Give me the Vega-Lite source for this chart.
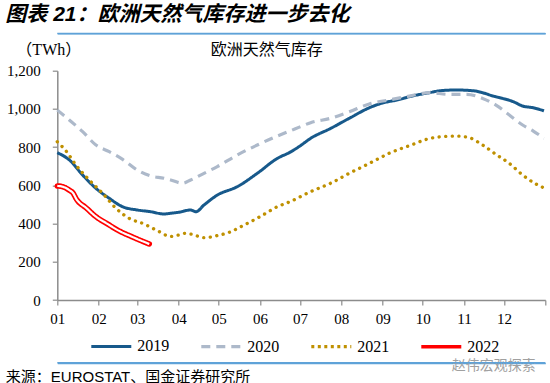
{
  "$schema": "https://vega.github.io/schema/vega-lite/v6.json",
  "autosize": {"type": "none"},
  "width": 488,
  "height": 229.3,
  "padding": {"left": 57.3, "top": 70.7, "right": 4.7, "bottom": 83},
  "background": "#ffffff",
  "title": {
    "text": "图表 21：欧洲天然气库存进一步去化",
    "anchor": "start",
    "frame": "group",
    "dx": -52,
    "offset": 8,
    "font": "Liberation Sans, Noto Sans CJK SC",
    "fontSize": 21,
    "fontWeight": "bold",
    "fontStyle": "italic",
    "color": "#000000"
  },
  "config": {"view": {"stroke": null}},
  "data": {
    "values": [
      {"date": "2019-01-01", "series": "2019", "value": 771},
      {"date": "2019-01-10", "series": "2019", "value": 733},
      {"date": "2019-01-20", "series": "2019", "value": 654},
      {"date": "2019-01-30", "series": "2019", "value": 584},
      {"date": "2019-02-09", "series": "2019", "value": 532},
      {"date": "2019-02-19", "series": "2019", "value": 488},
      {"date": "2019-03-01", "series": "2019", "value": 471},
      {"date": "2019-03-11", "series": "2019", "value": 462},
      {"date": "2019-03-21", "series": "2019", "value": 450},
      {"date": "2019-03-26", "series": "2019", "value": 454},
      {"date": "2019-04-01", "series": "2019", "value": 459},
      {"date": "2019-04-10", "series": "2019", "value": 471},
      {"date": "2019-04-14", "series": "2019", "value": 462},
      {"date": "2019-04-20", "series": "2019", "value": 497},
      {"date": "2019-04-30", "series": "2019", "value": 549},
      {"date": "2019-05-15", "series": "2019", "value": 593},
      {"date": "2019-05-30", "series": "2019", "value": 663},
      {"date": "2019-06-14", "series": "2019", "value": 741},
      {"date": "2019-06-24", "series": "2019", "value": 775},
      {"date": "2019-07-01", "series": "2019", "value": 806},
      {"date": "2019-07-09", "series": "2019", "value": 846},
      {"date": "2019-07-24", "series": "2019", "value": 898},
      {"date": "2019-08-07", "series": "2019", "value": 951},
      {"date": "2019-08-22", "series": "2019", "value": 1006},
      {"date": "2019-08-31", "series": "2019", "value": 1029},
      {"date": "2019-09-14", "series": "2019", "value": 1050},
      {"date": "2019-09-21", "series": "2019", "value": 1064},
      {"date": "2019-09-29", "series": "2019", "value": 1076},
      {"date": "2019-10-06", "series": "2019", "value": 1085},
      {"date": "2019-10-14", "series": "2019", "value": 1095},
      {"date": "2019-10-26", "series": "2019", "value": 1099},
      {"date": "2019-11-08", "series": "2019", "value": 1095},
      {"date": "2019-11-15", "series": "2019", "value": 1085},
      {"date": "2019-11-23", "series": "2019", "value": 1067},
      {"date": "2019-11-30", "series": "2019", "value": 1055},
      {"date": "2019-12-08", "series": "2019", "value": 1038},
      {"date": "2019-12-15", "series": "2019", "value": 1015},
      {"date": "2019-12-23", "series": "2019", "value": 1006},
      {"date": "2019-12-31", "series": "2019", "value": 990},
      {"date": "2020-01-01", "series": "2020", "value": 994},
      {"date": "2020-01-10", "series": "2020", "value": 942},
      {"date": "2020-01-20", "series": "2020", "value": 881},
      {"date": "2020-01-30", "series": "2020", "value": 811},
      {"date": "2020-02-09", "series": "2020", "value": 776},
      {"date": "2020-02-19", "series": "2020", "value": 736},
      {"date": "2020-03-01", "series": "2020", "value": 680},
      {"date": "2020-03-11", "series": "2020", "value": 649},
      {"date": "2020-03-21", "series": "2020", "value": 637},
      {"date": "2020-03-26", "series": "2020", "value": 628},
      {"date": "2020-04-04", "series": "2020", "value": 611},
      {"date": "2020-04-10", "series": "2020", "value": 628},
      {"date": "2020-04-20", "series": "2020", "value": 663},
      {"date": "2020-04-30", "series": "2020", "value": 698},
      {"date": "2020-05-15", "series": "2020", "value": 759},
      {"date": "2020-05-30", "series": "2020", "value": 811},
      {"date": "2020-06-14", "series": "2020", "value": 858},
      {"date": "2020-06-24", "series": "2020", "value": 886},
      {"date": "2020-07-01", "series": "2020", "value": 906},
      {"date": "2020-07-09", "series": "2020", "value": 928},
      {"date": "2020-07-24", "series": "2020", "value": 951},
      {"date": "2020-08-07", "series": "2020", "value": 985},
      {"date": "2020-08-22", "series": "2020", "value": 1026},
      {"date": "2020-09-06", "series": "2020", "value": 1047},
      {"date": "2020-09-21", "series": "2020", "value": 1067},
      {"date": "2020-10-06", "series": "2020", "value": 1085},
      {"date": "2020-10-21", "series": "2020", "value": 1076},
      {"date": "2020-11-03", "series": "2020", "value": 1076},
      {"date": "2020-11-15", "series": "2020", "value": 1055},
      {"date": "2020-11-25", "series": "2020", "value": 1020},
      {"date": "2020-12-05", "series": "2020", "value": 968},
      {"date": "2020-12-15", "series": "2020", "value": 916},
      {"date": "2020-12-23", "series": "2020", "value": 884},
      {"date": "2020-12-31", "series": "2020", "value": 846},
      {"date": "2021-01-01", "series": "2021", "value": 828},
      {"date": "2021-01-08", "series": "2021", "value": 776},
      {"date": "2021-01-15", "series": "2021", "value": 706},
      {"date": "2021-01-25", "series": "2021", "value": 628},
      {"date": "2021-02-04", "series": "2021", "value": 558},
      {"date": "2021-02-14", "series": "2021", "value": 480},
      {"date": "2021-02-24", "series": "2021", "value": 427},
      {"date": "2021-03-06", "series": "2021", "value": 398},
      {"date": "2021-03-16", "series": "2021", "value": 363},
      {"date": "2021-03-26", "series": "2021", "value": 333},
      {"date": "2021-04-01", "series": "2021", "value": 340},
      {"date": "2021-04-06", "series": "2021", "value": 349},
      {"date": "2021-04-11", "series": "2021", "value": 344},
      {"date": "2021-04-20", "series": "2021", "value": 326},
      {"date": "2021-04-30", "series": "2021", "value": 337},
      {"date": "2021-05-10", "series": "2021", "value": 357},
      {"date": "2021-05-20", "series": "2021", "value": 392},
      {"date": "2021-06-01", "series": "2021", "value": 436},
      {"date": "2021-06-14", "series": "2021", "value": 488},
      {"date": "2021-06-24", "series": "2021", "value": 516},
      {"date": "2021-07-09", "series": "2021", "value": 567},
      {"date": "2021-07-24", "series": "2021", "value": 611},
      {"date": "2021-08-07", "series": "2021", "value": 663},
      {"date": "2021-08-22", "series": "2021", "value": 715},
      {"date": "2021-09-06", "series": "2021", "value": 768},
      {"date": "2021-09-24", "series": "2021", "value": 815},
      {"date": "2021-10-04", "series": "2021", "value": 841},
      {"date": "2021-10-16", "series": "2021", "value": 855},
      {"date": "2021-10-26", "series": "2021", "value": 858},
      {"date": "2021-11-05", "series": "2021", "value": 849},
      {"date": "2021-11-15", "series": "2021", "value": 811},
      {"date": "2021-11-25", "series": "2021", "value": 762},
      {"date": "2021-12-05", "series": "2021", "value": 715},
      {"date": "2021-12-15", "series": "2021", "value": 654},
      {"date": "2021-12-24", "series": "2021", "value": 611},
      {"date": "2021-12-30", "series": "2021", "value": 590},
      {"date": "2022-01-01", "series": "2022", "value": 597},
      {"date": "2022-01-05", "series": "2022", "value": 593},
      {"date": "2022-01-10", "series": "2022", "value": 575},
      {"date": "2022-01-13", "series": "2022", "value": 558},
      {"date": "2022-01-15", "series": "2022", "value": 532},
      {"date": "2022-01-23", "series": "2022", "value": 480},
      {"date": "2022-01-30", "series": "2022", "value": 436},
      {"date": "2022-02-07", "series": "2022", "value": 401},
      {"date": "2022-02-16", "series": "2022", "value": 363},
      {"date": "2022-02-26", "series": "2022", "value": 331},
      {"date": "2022-03-10", "series": "2022", "value": 293}
    ]
  },
  "encoding": {
    "y": {
      "field": "value",
      "type": "quantitative",
      "scale": {"domain": [0, 1200]},
      "axis": {
        "values": [0, 200, 400, 600, 800, 1000, 1200],
        "format": ",.0f",
        "grid": false,
        "domainColor": "#8c8c8c",
        "domainWidth": 1.5,
        "tickColor": "#8c8c8c",
        "tickWidth": 1.2,
        "tickSize": 5,
        "labelFont": "Liberation Serif",
        "labelFontSize": 15,
        "labelColor": "#000000",
        "labelPadding": 12,
        "title": "（TWh）",
        "titleAngle": 0,
        "titleX": -9,
        "titleY": -21,
        "titleAlign": "center",
        "titleBaseline": "middle",
        "titleFont": "Liberation Serif, Noto Sans CJK SC",
        "titleFontSize": 16,
        "titleFontWeight": "normal",
        "titleColor": "#000000"
      }
    },
    "color": {
      "field": "series",
      "type": "nominal",
      "scale": {"domain": ["2019", "2020", "2021", "2022"], "range": ["#17598b", "#adb9ca", "#bf9000", "#ff0000"]},
      "legend": {
        "orient": "none",
        "legendX": 32,
        "legendY": 254,
        "direction": "horizontal",
        "columns": 4,
        "title": null,
        "padding": 0,
        "symbolType": "stroke",
        "symbolSize": 1600,
        "labelFont": "Liberation Serif",
        "labelFontSize": 16,
        "labelColor": "#000000",
        "labelOffset": 4,
        "columnPadding": 25
      }
    },
    "strokeDash": {
      "field": "series",
      "type": "nominal",
      "scale": {"domain": ["2019", "2020", "2021", "2022"], "range": [[1, 0], [9, 6], [3, 3.5], [1, 0]]}
    },
    "strokeWidth": {
      "field": "series",
      "type": "nominal",
      "scale": {"domain": ["2019", "2020", "2021", "2022"], "range": [3, 3.5, 3.3, 4.5]}
    }
  },
  "resolve": {"axis": {"x": "independent"}},
  "layer": [
    {
      "transform": [{"filter": "datum.series === '2019'"}],
      "mark": {"type": "line", "interpolate": "monotone"},
      "encoding": {
        "x": {
          "field": "date",
          "timeUnit": "utcmonthdate",
          "type": "temporal",
          "scale": {"domain": [{"year": 2012, "month": 1, "date": 1, "utc": true}, {"year": 2013, "month": 1, "date": 1, "utc": true}]},
          "axis": {
            "orient": "bottom",
            "tickCount": {"interval": "month", "step": 1},
            "labelExpr": "utcyear(datum.value) > 2012 ? '' : utcFormat(datum.value, '%m')",
            "grid": false,
            "domainColor": "#8c8c8c",
            "domainWidth": 1.5,
            "tickColor": "#8c8c8c",
            "tickWidth": 1.2,
            "tickSize": 5,
            "labelFont": "Liberation Serif",
            "labelFontSize": 15,
            "labelColor": "#000000",
            "labelPadding": 6,
            "labelFlush": false,
            "labelOverlap": false,
            "title": "来源：EUROSTAT、国金证券研究所",
            "titleFont": "Liberation Sans, Noto Sans CJK SC",
            "titleFontSize": 15,
            "titleFontWeight": "normal",
            "titleColor": "#000000",
            "titleX": -52,
            "titleY": 76,
            "titleAlign": "left",
            "titleBaseline": "middle"
          }
        }
      }
    },
    {
      "transform": [{"filter": "datum.series === '2020'"}],
      "mark": {"type": "line", "interpolate": "monotone"},
      "encoding": {
        "x": {
          "field": "date",
          "timeUnit": "utcmonthdate",
          "type": "temporal",
          "axis": {
            "orient": "top",
            "offset": 37.4,
            "domain": true,
            "domainOpacity": 1,
            "domainColor": "#5fa2d8",
            "domainWidth": 1.5,
            "ticks": false,
            "labels": false,
            "grid": false,
            "title": "欧洲天然气库存",
            "titleFont": "Liberation Serif, Noto Sans CJK SC",
            "titleFontSize": 16,
            "titleFontWeight": "normal",
            "titleColor": "#000000",
            "titleX": 209,
            "titleY": 16,
            "titleAlign": "center",
            "titleBaseline": "middle"
          }
        }
      }
    },
    {
      "transform": [{"filter": "datum.series === '2021'"}],
      "mark": {"type": "line", "strokeCap": "round", "interpolate": "monotone"},
      "encoding": {
        "x": {
          "field": "date",
          "timeUnit": "utcmonthdate",
          "type": "temporal",
          "axis": {
            "orient": "bottom",
            "offset": 63,
            "domain": true,
            "domainOpacity": 1,
            "domainColor": "#5fa2d8",
            "domainWidth": 1.5,
            "ticks": false,
            "labels": false,
            "grid": false,
            "title": "赵伟宏观探索",
            "titleFont": "Noto Sans CJK SC",
            "titleFontSize": 14,
            "titleFontWeight": "normal",
            "titleColor": "#a0a0a0",
            "titleX": 436,
            "titleY": 2,
            "titleAlign": "center",
            "titleBaseline": "middle"
          }
        },
        "strokeDash": {"value": [0.1, 6.5]}
      }
    },
    {
      "transform": [{"filter": "datum.series === '2022'"}],
      "mark": {"type": "line", "strokeCap": "round", "interpolate": "monotone"},
      "encoding": {
        "x": {"field": "date", "timeUnit": "utcmonthdate", "type": "temporal", "axis": null},
        "strokeWidth": {"value": 5.5}
      }
    },
    {
      "transform": [{"filter": "datum.series === '2022'"}],
      "mark": {"type": "line", "interpolate": "monotone"},
      "encoding": {
        "x": {"field": "date", "timeUnit": "utcmonthdate", "type": "temporal", "axis": null},
        "color": {"value": "#ffffff"},
        "strokeWidth": {"value": 2.2}
      }
    },
    {
      "data": {"values": [{"rule": "header", "level": 1395}, {"rule": "footer", "level": -329}]},
      "mark": {"type": "rule", "clip": false},
      "encoding": {
        "y": {
          "field": "level",
          "type": "quantitative",
          "axis": {
            "values": [0, 200, 400, 600, 800, 1000, 1200],
            "format": ",.0f",
            "grid": false,
            "domainColor": "#8c8c8c",
            "domainWidth": 1.5,
            "tickColor": "#8c8c8c",
            "tickWidth": 1.2,
            "tickSize": 5,
            "labelFont": "Liberation Serif",
            "labelFontSize": 15,
            "labelColor": "#000000",
            "labelPadding": 12,
            "title": "（TWh）",
            "titleAngle": 0,
            "titleX": -9,
            "titleY": -21,
            "titleAlign": "center",
            "titleBaseline": "middle",
            "titleFont": "Liberation Serif, Noto Sans CJK SC",
            "titleFontSize": 16,
            "titleFontWeight": "normal",
            "titleColor": "#000000"
          }
        },
        "color": {"value": "#5fa2d8"},
        "strokeWidth": {"value": 1.5},
        "strokeDash": {"value": [1, 0]}
      }
    }
  ]
}
